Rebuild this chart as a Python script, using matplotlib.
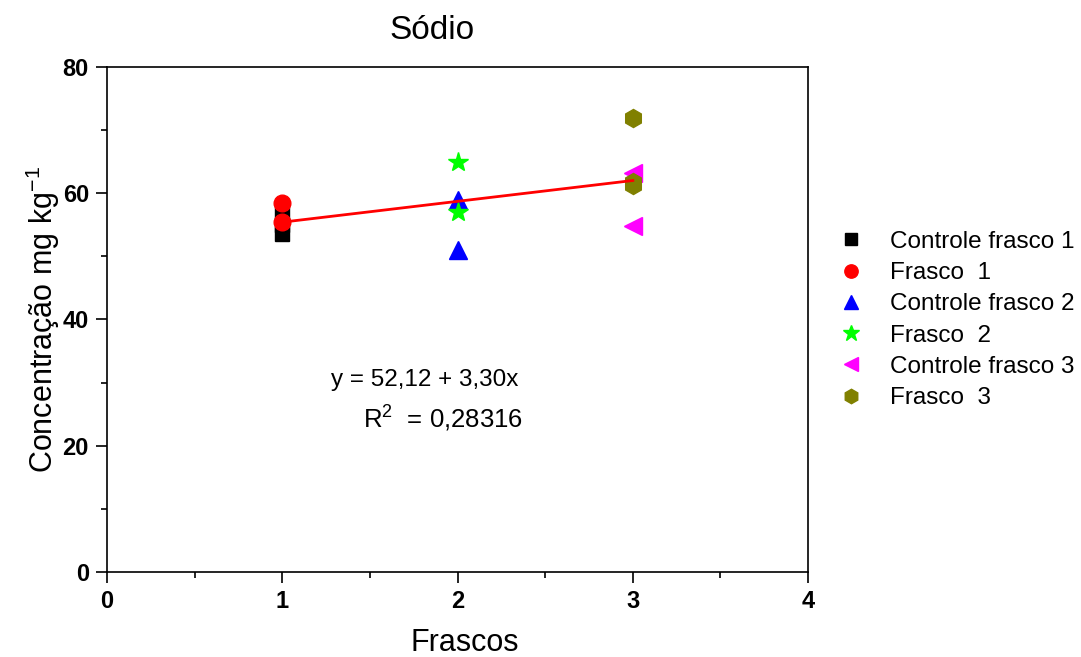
import matplotlib
matplotlib.use('Agg')
import matplotlib.pyplot as plt
import numpy as np

plt.rcParams['font.family'] = ['Liberation Sans', 'DejaVu Sans']

# 数据
ctrl1_x = [1, 1, 1]
ctrl1_y = [53.5, 55.0, 57.0]
fr1_x = [1, 1]
fr1_y = [58.5, 55.5]
ctrl2_x = [2, 2]
ctrl2_y = [59.0, 51.0]
fr2_x = [2, 2]
fr2_y = [65.0, 57.0]
ctrl3_x = [3, 3]
ctrl3_y = [63.2, 54.8]
fr3_x = [3, 3, 3]
fr3_y = [71.9, 61.3, 61.8]

intercept = 52.12
slope = 3.30
fit_x = np.array([1, 3])

fig = plt.figure(figsize=(10.81, 6.57), dpi=100)
ax = fig.add_axes([0.099, 0.1294, 0.6485, 0.7686])

ax.plot(ctrl1_x, ctrl1_y, 's', color='black', ms=10, label='Controle frasco 1', zorder=3)
ax.plot(fr1_x, fr1_y, 'o', color='red', ms=12, label='Frasco  1', zorder=3)
ax.plot(ctrl2_x, ctrl2_y, '^', color='blue', ms=13, label='Controle frasco 2', zorder=3)
ax.plot(fr2_x, fr2_y, '*', color='#00ff00', ms=15, label='Frasco  2', zorder=3)
ax.plot(ctrl3_x, ctrl3_y, '<', color='magenta', ms=13, label='Controle frasco 3', zorder=3)
ax.plot(fr3_x, fr3_y, 'h', color='#808000', ms=13, label='Frasco  3', zorder=3)

ax.plot(fit_x, intercept + slope * fit_x, color='red', linewidth=2, zorder=4)

ax.set_xlim(0, 4)
ax.set_ylim(0, 80)
ax.set_xticks([0, 1, 2, 3, 4])
ax.set_xticks(np.arange(0.5, 4, 1), minor=True)
ax.set_yticks([0, 20, 40, 60, 80])
ax.set_yticks([10, 30, 50, 70], minor=True)
ax.tick_params(which='major', direction='out', length=8, width=1.2, labelsize=17, pad=5)
ax.tick_params(which='minor', direction='out', length=4, width=1.2)
for lbl in ax.get_xticklabels() + ax.get_yticklabels():
    lbl.set_fontweight('bold')
for sp in ax.spines.values():
    sp.set_linewidth(1.2)

ax.set_xlabel('Frascos', fontsize=22)
ax.xaxis.set_label_coords(0.51, -0.11)
ax.set_ylabel(r'Concentração mg kg$^{\mathregular{-1}}$', fontsize=22)
ax.yaxis.set_label_coords(-0.064, 0.5)
fig.text(0.4, 0.954, 'Sódio', fontsize=24, ha='center', va='center')

ax.text(1.815, 30.4, 'y = 52,12 + 3,30x', fontsize=17.5, ha='center', va='center')
ax.text(1.917, 24.4, r'R$^{\mathregular{2}}$  = 0,28316', fontsize=18.5, ha='center', va='center')

fig.legend(loc='center left', bbox_to_anchor=(0.765, 0.513), frameon=False,
           fontsize=17.5, labelspacing=0.38, handletextpad=0.6, markerscale=0.8,
           numpoints=1, borderpad=0, borderaxespad=0)

plt.savefig('out.png', dpi=100)
